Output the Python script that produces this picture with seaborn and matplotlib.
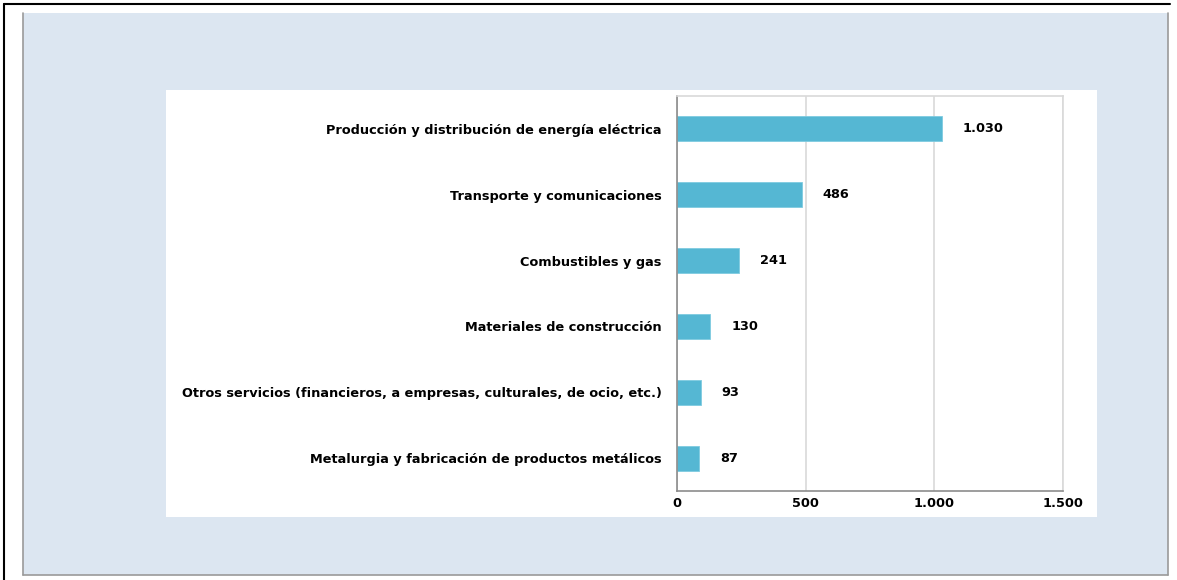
import matplotlib
matplotlib.use("Agg")
import matplotlib.pyplot as plt
from matplotlib.patches import Rectangle
from matplotlib.lines import Line2D
import seaborn as sns
import pandas as pd

# Datos del gráfico
sectores = [
    "Producción y distribución de energía eléctrica",
    "Transporte y comunicaciones",
    "Combustibles y gas",
    "Materiales de construcción",
    "Otros servicios (financieros, a empresas, culturales, de ocio, etc.)",
    "Metalurgia y fabricación de productos metálicos",
]
valores = [1030, 486, 241, 130, 93, 87]
ticks_x = [0, 500, 1000, 1500]
etiquetas_x = ["0", "500", "1.000", "1.500"]

df = pd.DataFrame({"sector": sectores, "valor": valores})

sns.set_style("white")
plt.rcParams["font.family"] = ["DejaVu Sans"]
plt.rcParams["text.color"] = "black"
plt.rcParams["xtick.color"] = "black"
plt.rcParams["ytick.color"] = "black"

W, H = 1177, 580
fig = plt.figure(figsize=(W / 100, H / 100), dpi=100)
fig.patch.set_facecolor("white")


def px(x0, y0, x1, y1):
    # caja en pixeles (origen arriba-izquierda) -> coordenadas de figura
    return [x0 / W, 1 - y1 / H, (x1 - x0) / W, (y1 - y0) / H]


# marco negro exterior
fig.add_artist(Line2D([4 / W, 1170 / W], [1 - 4 / H, 1 - 4 / H], color="black", lw=1.5))
fig.add_artist(Line2D([4 / W, 4 / W], [1 - 4 / H, 0], color="black", lw=1.5))

# panel azul claro
x, y, w, h = px(23, 13, 1168, 575)
fig.add_artist(Rectangle((x, y), w, h, transform=fig.transFigure,
                         facecolor="#DCE6F1", edgecolor="none", zorder=-2))
gris = "#9A9A9A"
fig.add_artist(Line2D([x, x], [y, y + h], color=gris, lw=1.2))
fig.add_artist(Line2D([x + w, x + w], [y, y + h], color=gris, lw=1.2))
fig.add_artist(Line2D([x, x + w], [y, y], color=gris, lw=1.2))

# area blanca del gráfico
x, y, w, h = px(166, 90, 1097, 517)
fig.add_artist(Rectangle((x, y), w, h, transform=fig.transFigure,
                         facecolor="white", edgecolor="none", zorder=-1))

ax = fig.add_axes(px(677, 96, 1063, 491))
ax.set_zorder(5)
ax.set_facecolor("none")

sns.barplot(data=df, y="sector", x="valor", orient="h", color="#55B7D3",
            width=0.38, saturation=1, edgecolor="#7FCBE0", linewidth=0.6, ax=ax)

ax.set_xlim(0, 1500)
ax.set_ylim(len(sectores) - 0.5, -0.5)
ax.set_xticks(ticks_x)
ax.set_xticklabels(etiquetas_x, fontsize=9.3, fontweight="bold")
ax.set_yticks(range(len(sectores)))
ax.set_yticklabels(sectores, fontsize=9.3, fontweight="bold")
ax.set_xlabel("")
ax.set_ylabel("")

ax.xaxis.grid(True, color="#D9D9D9", lw=1.2)
ax.set_axisbelow(True)

for s in ["top", "right"]:
    ax.spines[s].set_color("#D9D9D9")
    ax.spines[s].set_linewidth(1.2)
for s in ["left", "bottom"]:
    ax.spines[s].set_color("#8C8C8C")
    ax.spines[s].set_linewidth(1.2)

# ticks: categoría sin marca, marcas en los límites entre categorías
ax.tick_params(axis="y", length=0, pad=11)
ax.set_yticks([i - 0.5 for i in range(len(sectores) + 1)], minor=True)
ax.tick_params(axis="y", which="minor", length=4, color="#8C8C8C", direction="out")
ax.tick_params(axis="x", length=3, color="#8C8C8C", direction="out", pad=1.5)

for i, v in enumerate(valores):
    etiqueta = f"{v:,}".replace(",", ".")
    ax.annotate(etiqueta, (v, i), xytext=(15, 0), textcoords="offset points",
                ha="left", va="center", fontsize=9.3, fontweight="bold")

fig.savefig("out.png", dpi=100)
